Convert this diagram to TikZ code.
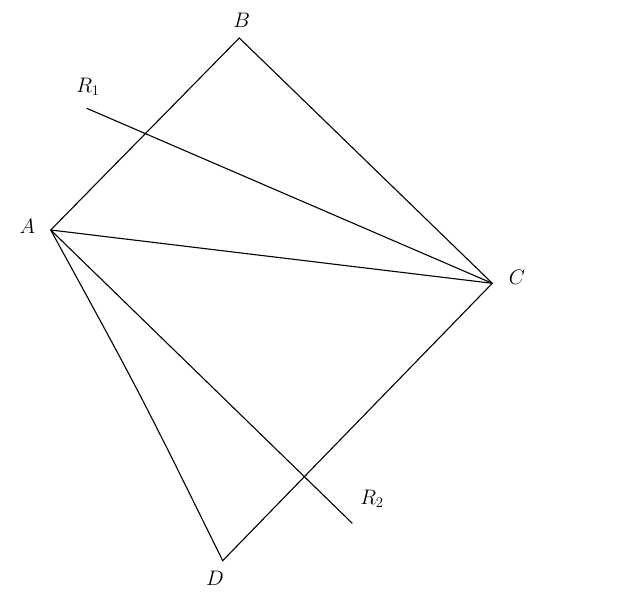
\RequirePackage{fix-cm}
\documentclass[tikz,border=0pt]{standalone}
\usepackage{amssymb, mathtools, amsmath}
\begin{document}
\begin{tikzpicture}[x=1pt,y=1pt,yscale=-1,line width=1.1pt,
  lbl/.style={inner sep=0.75pt,font=\fontsize{21}{24}\selectfont}]
\useasboundingbox (0,0) rectangle (640,601);

%Vertices
\coordinate (A) at (50.7,230);
\coordinate (B) at (239.3,38);
\coordinate (C) at (492.3,283.3);
\coordinate (D) at (222.7,560.7);
\coordinate (R1) at (86.7,108.3);
\coordinate (R2) at (352.3,523.3);

%Quadrilateral
\draw (A) -- (B) -- (C) -- (D) .. controls (140.5,394) .. (A) -- cycle ;
%Diagonal
\draw (A) -- (C) ;
%Rays
\draw (R1) -- (C) ;
\draw (A) -- (R2) ;

% Text Node
\node[lbl] (labA) at (27.3,226) {$A$};
% Text Node
\node[lbl] (labB) at (241.7,20) {$B$};
% Text Node
\node[lbl] (labC) at (517,277) {$C$};
% Text Node
\node[lbl] (labD) at (215,578) {$D$};
% Text Node
\node[lbl] (labR1) at (88,87) {$R_{1}$};
% Text Node
\node[lbl] (labR2) at (372,499) {$R_{2}$};

\end{tikzpicture}
\end{document}
